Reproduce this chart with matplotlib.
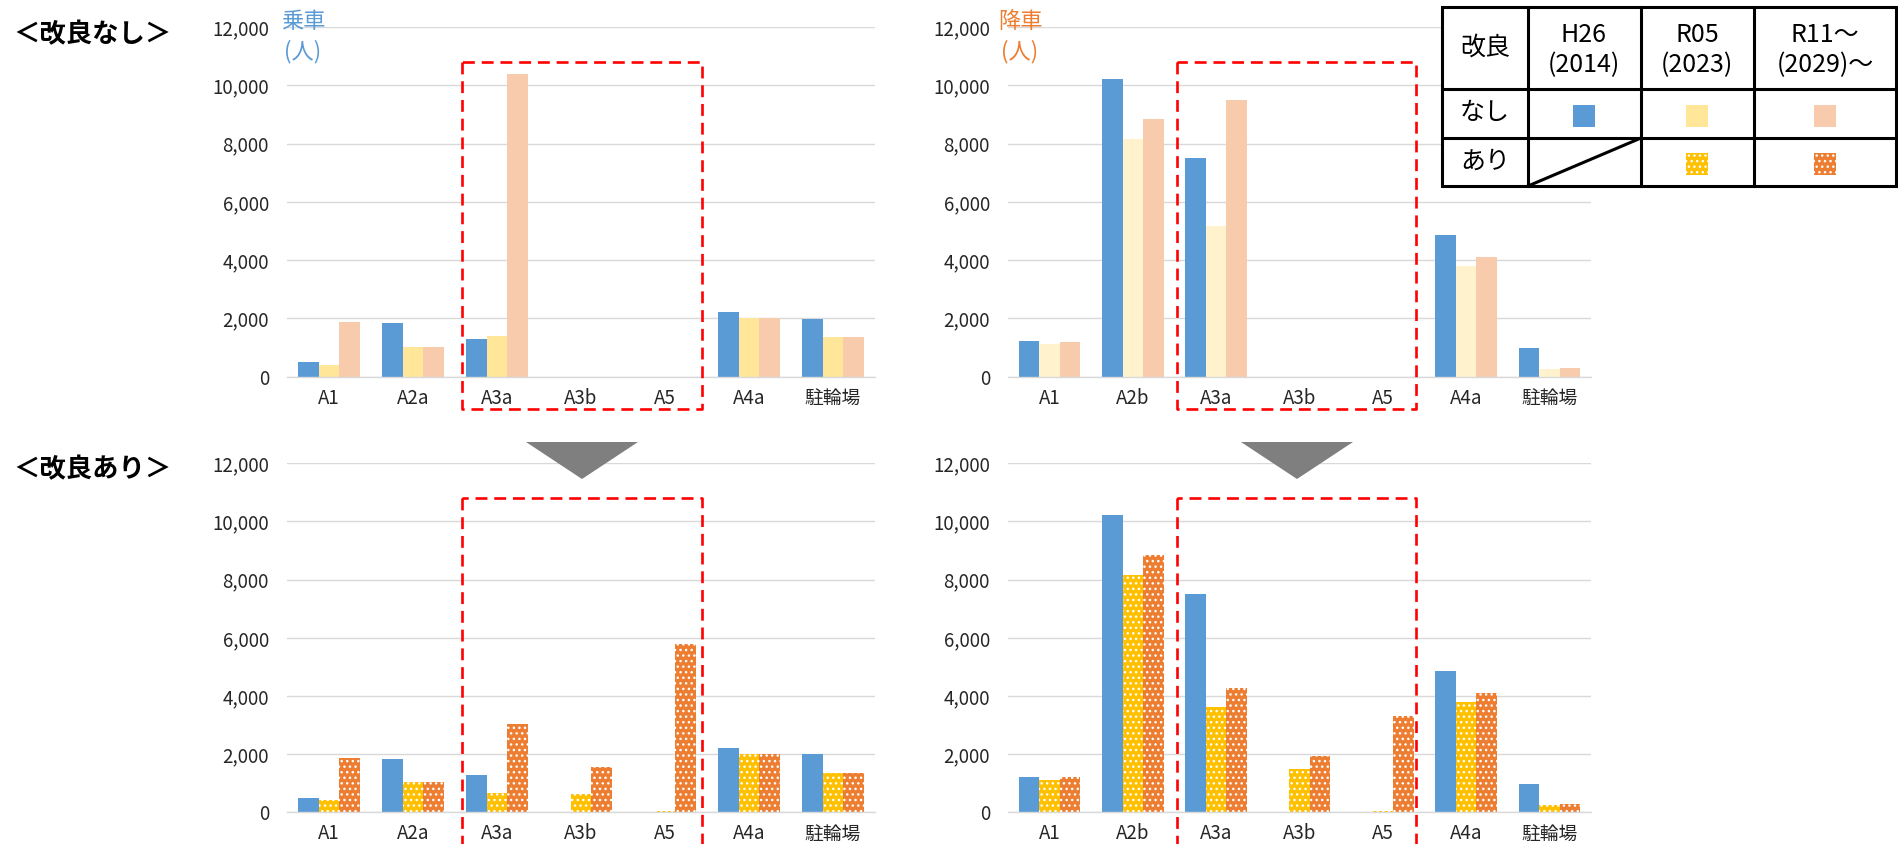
import matplotlib
matplotlib.use("Agg")
import matplotlib.pyplot as plt
from matplotlib.patches import Rectangle, Polygon
import numpy as np

# fonts
CJK = "Noto Sans CJK JP"
NARROW = ["Liberation Sans Narrow", "Noto Sans CJK JP", "DejaVu Sans"]
plt.rcParams["font.family"] = [CJK, "DejaVu Sans"]
plt.rcParams["hatch.linewidth"] = 1.0

# data (persons / day)
cats_board = ["A1", "A2a", "A3a", "A3b", "A5", "A4a", "駐輪場"]
cats_alight = ["A1", "A2b", "A3a", "A3b", "A5", "A4a", "駐輪場"]
yticks = [0, 2000, 4000, 6000, 8000, 10000, 12000]

board_h26 = [500, 1830, 1290, 0, 0, 2210, 1990]
board_r05_before = [410, 1030, 1400, 0, 0, 2000, 1360]
board_r11_before = [1870, 1030, 10400, 0, 0, 2000, 1360]
board_r05_after = [420, 1030, 680, 640, 40, 2000, 1360]
board_r11_after = [1870, 1030, 3040, 1570, 5800, 2000, 1360]

alight_h26 = [1225, 10210, 7500, 0, 0, 4850, 980]
alight_r05_before = [1120, 8150, 5170, 0, 0, 3810, 250]
alight_r11_before = [1200, 8840, 9510, 0, 0, 4110, 290]
alight_r05_after = [1110, 8150, 3610, 1480, 50, 3800, 245]
alight_r11_after = [1200, 8840, 4270, 1950, 3300, 4110, 290]

legend_cols = ["H26\n(2014)", "R05\n(2023)", "R11～\n(2029)～"]

# colours
BLUE = "#5B9BD5"
YEL_L = "#FFE699"
YEL_LL = "#FFF2CC"
PEACH = "#F8CBAD"
YEL = "#FFC000"
ORANGE = "#ED7D31"
GRID = "#D9D9D9"

W, H = 1898, 844
fig = plt.figure(figsize=(W / 100, H / 100), dpi=100)


def px_rect(left, top, right, bottom):
    return [left / W, 1 - bottom / H, (right - left) / W, (bottom - top) / H]


def plain(c):
    return dict(facecolor=c, linewidth=0)


def dotted(c):
    return dict(facecolor=c, edgecolor="white", linewidth=0, hatch="...")


def panel(rect, cats, h26, r05, r11, s05, s11):
    ax = fig.add_axes(rect)
    x = np.arange(len(cats))
    w = 0.246
    ax.bar(x - w, h26, w, **plain(BLUE))
    ax.bar(x, r05, w, **s05)
    ax.bar(x + w, r11, w, **s11)
    ax.set_xlim(-0.5, len(cats) - 0.5)
    ax.set_ylim(0, 12000)
    ax.set_yticks(yticks, [f"{v:,}" for v in yticks], fontfamily=NARROW,
                  fontsize=13.5, color="#262626")
    ax.set_xticks(x, cats, fontfamily=NARROW, fontsize=13.5, color="#262626")
    ax.tick_params(length=0)
    ax.tick_params(axis="y", pad=13)
    ax.tick_params(axis="x", pad=8)
    ax.grid(axis="y", color=GRID, linewidth=1.0)
    ax.set_axisbelow(True)
    for s in ["top", "right", "left"]:
        ax.spines[s].set_visible(False)
    ax.spines["bottom"].set_color(GRID)
    ax.spines["bottom"].set_linewidth(1.0)
    return ax


panel(px_rect(287, 27, 875, 376.7), cats_board, board_h26,
      board_r05_before, board_r11_before, plain(YEL_L), plain(PEACH))
panel(px_rect(1008, 27, 1591, 376.7), cats_alight, alight_h26,
      alight_r05_before, alight_r11_before, plain(YEL_LL), plain(PEACH))
panel(px_rect(287, 463.3, 875, 812.3), cats_board, board_h26,
      board_r05_after, board_r11_after, dotted(YEL), dotted(ORANGE))
panel(px_rect(1008, 463.3, 1591, 812.3), cats_alight, alight_h26,
      alight_r05_after, alight_r11_after, dotted(YEL), dotted(ORANGE))

# overlay in pixel coordinates
ov = fig.add_axes([0, 0, 1, 1], zorder=10)
ov.set_xlim(0, W)
ov.set_ylim(H, 0)
ov.axis("off")

ov.text(13, 35, "＜改良なし＞", fontsize=19, fontweight="bold", va="center", ha="left")
ov.text(13, 470, "＜改良あり＞", fontsize=19, fontweight="bold", va="center", ha="left")

ov.text(303, 22, "乗車", color=BLUE, fontsize=16, ha="center", va="center")
ov.text(303, 52, "(人)", color=BLUE, fontsize=16, ha="center", va="center")
ov.text(1020, 22, "降車", color=ORANGE, fontsize=16, ha="center", va="center")
ov.text(1020, 52, "(人)", color=ORANGE, fontsize=16, ha="center", va="center")

# red dashed boxes
for (l, t, r, b) in [(462, 62, 702, 409), (1177, 62, 1416, 409),
                     (462, 498, 702, 860), (1177, 498, 1416, 860)]:
    ov.plot([l, l, r, r, l], [t, b, b, t, t], color="#FF0000", linewidth=1.9,
            dashes=(4.5, 2.6), solid_joinstyle="miter", clip_on=False)

# arrows
for cx in [582, 1297]:
    ov.add_patch(Polygon([[cx - 56, 442], [cx + 56, 442], [cx, 479]],
                         closed=True, facecolor="#7F7F7F", edgecolor="none"))

# legend table
tl, tt, tr, tb = 1442, 7, 1896, 186
ov.add_patch(Rectangle((tl, tt), tr - tl, tb - tt, facecolor="white",
                       edgecolor="black", linewidth=2.2))
for xv in [1528, 1641, 1754]:
    ov.plot([xv, xv], [tt, tb], color="black", linewidth=2.2)
for yv in [89, 138]:
    ov.plot([tl, tr], [yv, yv], color="black", linewidth=2.2)
ov.plot([1528, 1641], [tb, 138], color="black", linewidth=2.2)

ov.text(1485, 48, "改良", fontsize=18, ha="center", va="center")
ov.text(1485, 113, "なし", fontsize=18, ha="center", va="center")
ov.text(1485, 162, "あり", fontsize=18, ha="center", va="center")
col_x = [1584, 1697, 1825]
for cx, lab in zip(col_x, legend_cols):
    ov.text(cx, 50, lab, fontsize=18, ha="center", va="center",
            fontfamily=NARROW, linespacing=1.2)
sq = 22
for cx, c in zip(col_x, [BLUE, YEL_L, PEACH]):
    ov.add_patch(Rectangle((cx - sq / 2, 116 - sq / 2), sq, sq, **plain(c)))
for cx, c in zip(col_x[1:], [YEL, ORANGE]):
    ov.add_patch(Rectangle((cx - sq / 2, 164 - sq / 2), sq, sq, **dotted(c)))

fig.savefig("out.png", dpi=100)
